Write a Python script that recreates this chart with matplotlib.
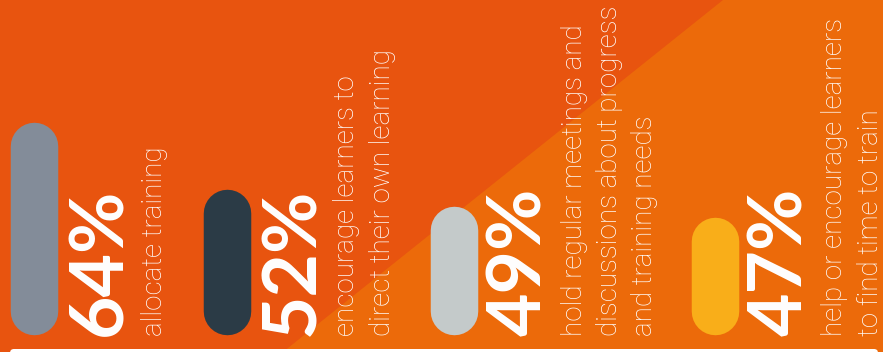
import matplotlib.pyplot as plt
from matplotlib.patches import Polygon, FancyBboxPatch

# data
pct_values = [64, 52, 49, 47]
pct_labels = ["64%", "52%", "49%", "47%"]
descriptions = [
    ["allocate training"],
    ["encourage learners to", "direct their own learning"],
    ["hold regular meetings and", "discussions about progress", "and training needs"],
    ["help or encourage learners", "to find time to train"],
]
bar_colors = ["#838c99", "#2b3b46", "#c4caca", "#f9ae19"]

# layout (pixels)
W, H = 883, 352
base_val = 34.4      # value at the bar foot
px_per_unit = 5.57
foot_px = 311        # y pixel (from top) of the line end at the foot
bar_w = 47.5
line_step = 35.5

fig = plt.figure(figsize=(W / 100, H / 100), dpi=100)
fig.patch.set_facecolor("#e8540f")

bg = fig.add_axes([0, 0, 1, 1])
bg.set_xlim(0, W)
bg.set_ylim(H, 0)
bg.axis("off")
bg.add_patch(Polygon([(283, H), (723, 0), (W, 0), (W, H)], closed=True,
                     fc="#ec6a0a", ec="none"))
bg.add_patch(FancyBboxPatch((10, 349), W - 15, 20,
                            boxstyle="round,pad=0,rounding_size=4",
                            fc="white", ec="none"))

# group positions from the number of label lines
starts = [10]
for lines in descriptions[:-1]:
    starts.append(starts[-1] + 159 + 34 * len(lines))
centers = [s + 24 for s in starts]

ax = fig.add_axes([0, (H - foot_px) / H, 1, foot_px / H])
ax.set_xlim(0, W)
ax.set_ylim(base_val, base_val + foot_px / px_per_unit)
ax.axis("off")
ax.patch.set_alpha(0)

for x, v, c in zip(centers, pct_values, bar_colors):
    ax.plot([x, x], [base_val, v], color=c, lw=bar_w * 0.72,
            solid_capstyle="round", clip_on=False)

for x, lab, lines in zip(centers, pct_labels, descriptions):
    bg.text(x + 66, 336, lab, rotation=90, ha="center", va="bottom",
            color="white", fontsize=54, fontweight="bold", family="Lato")
    for i, ln in enumerate(lines):
        bg.text(x + 120 + line_step * i, 336, ln, rotation=90, ha="center",
                va="bottom", color="white", fontsize=20, fontweight="light",
                family="Roboto")

fig.savefig("out.png", dpi=100, facecolor=fig.get_facecolor())
